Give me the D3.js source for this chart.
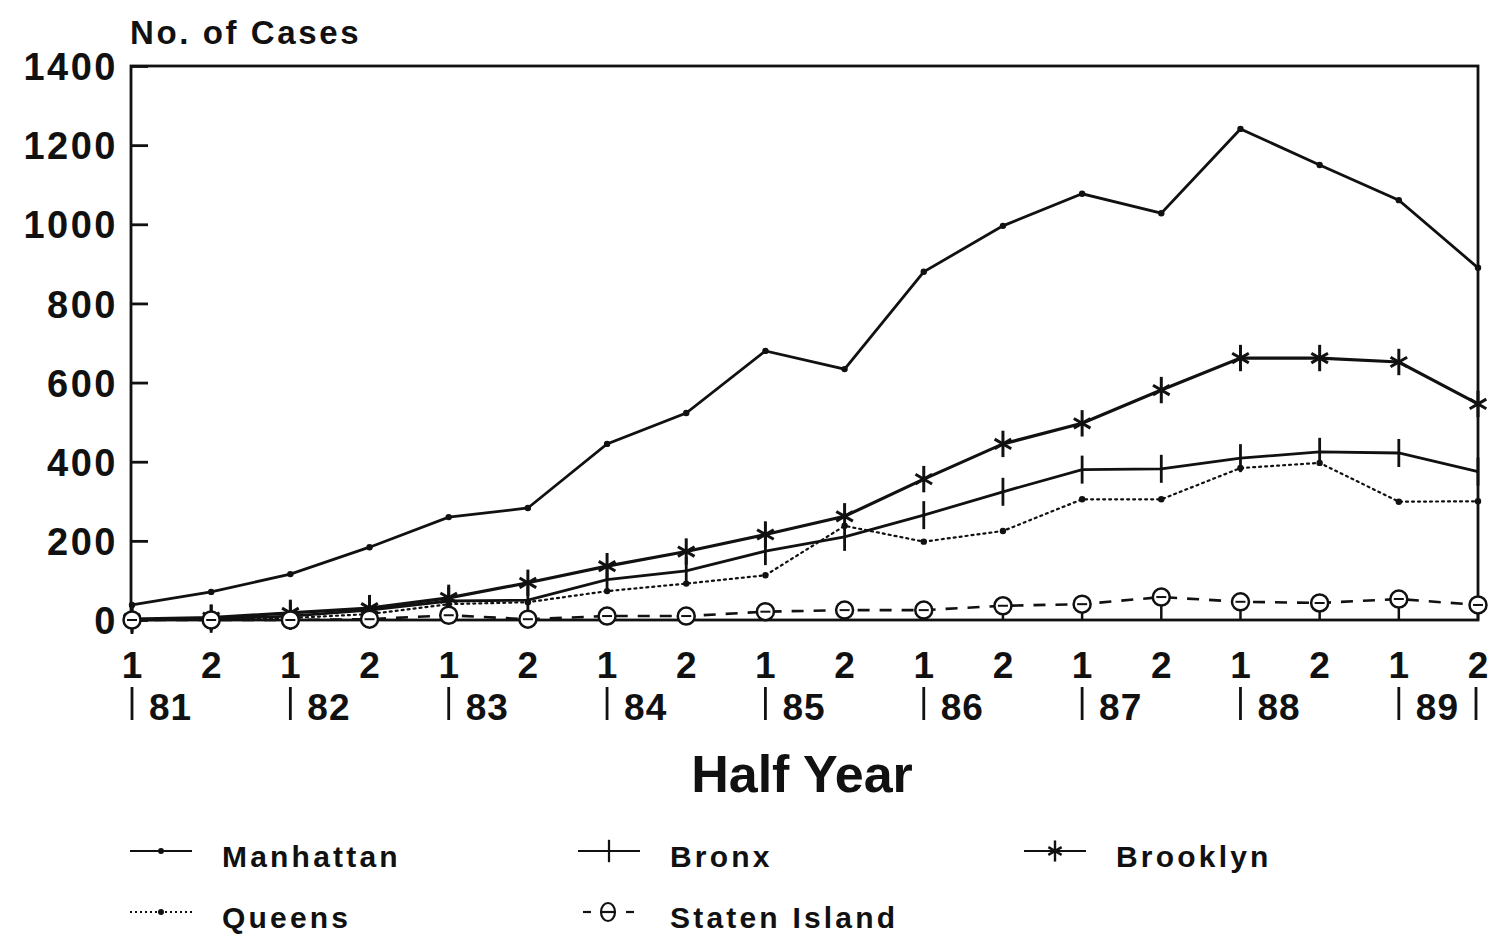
<!DOCTYPE html>
<html>
<head>
<meta charset="utf-8">
<script src="https://cdn.jsdelivr.net/npm/d3@7"></script>
<style>
  body { margin: 0; background: #fff; }
  text { font-family: "Liberation Sans", Arial, sans-serif; font-weight: bold; fill: #111; }
</style>
</head>
<body>
<svg width="1501" height="940"></svg>
<script>
// half-year periods, 1981 H1 .. 1989 H2
var halves = ["1","2","1","2","1","2","1","2","1","2","1","2","1","2","1","2","1","2"];
var years = ["81","82","83","84","85","86","87","88","89"];
var yTicks = [0, 200, 400, 600, 800, 1000, 1200, 1400];

var manhattan = [38, 71, 116, 184, 260, 283, 445, 523, 680, 634, 880, 996, 1077, 1028, 1241, 1150, 1061, 890];
var bronx     = [0, 3, 10, 25, 48, 50, 102, 124, 174, 210, 265, 324, 380, 382, 409, 425, 422, 375];
var brooklyn  = [2, 6, 18, 30, 56, 94, 136, 173, 216, 262, 356, 445, 497, 581, 662, 662, 652, 546];
var queens    = [0, 2, 5, 15, 40, 45, 73, 92, 113, 238, 198, 225, 305, 305, 384, 397, 299, 300];
var staten    = [0, 0, 0, 2, 12, 2, 10, 10, 21, 25, 25, 36, 40, 58, 46, 43, 53, 38];

var svg = d3.select("svg");
// plot box (avoid "top", it is window.top)
var pLeft = 131, pRight = 1478, pTop = 66, pBottom = 620;

var x = d3.scaleLinear().domain([0, 17]).range([pLeft + 1, pRight]);
var y = d3.scaleLinear().domain([0, 1400]).range([pBottom, pTop]);

// frame
svg.append("rect")
  .attr("x", pLeft).attr("y", pTop)
  .attr("width", pRight - pLeft).attr("height", pBottom - pTop)
  .attr("fill", "none").attr("stroke", "#111").attr("stroke-width", 2.8);

// y axis, ticks pointing inward
var yAxis = svg.append("g")
  .attr("transform", "translate(" + pLeft + ",0)")
  .call(d3.axisLeft(y).tickValues(yTicks).tickSize(-17).tickPadding(13).tickFormat(d3.format("d")));
yAxis.select(".domain").remove();
yAxis.selectAll("line").attr("stroke", "#111").attr("stroke-width", 2.8);
yAxis.selectAll("text")
  .style("font-size", "38px").style("letter-spacing", "2.5px")
  .attr("dy", "0.36em").attr("fill", "#111");

svg.append("text")
  .attr("x", 130).attr("y", 44)
  .style("font-size", "33px").style("letter-spacing", "2.6px")
  .text("No. of Cases");

// x labels
svg.append("g").selectAll("text")
  .data(halves).enter().append("text")
  .attr("x", function(d, i) { return x(i); })
  .attr("y", 678)
  .attr("text-anchor", "middle")
  .style("font-size", "37px")
  .text(function(d) { return d; });

var yr = svg.append("g").selectAll("g")
  .data(years).enter().append("g")
  .attr("transform", function(d, i) { return "translate(" + x(i * 2) + ",0)"; });
yr.append("line")
  .attr("x1", 0).attr("x2", 0).attr("y1", 687).attr("y2", 720)
  .attr("stroke", "#111").attr("stroke-width", 2.8);
yr.append("text")
  .attr("x", 17).attr("y", 720)
  .style("font-size", "37px").style("letter-spacing", "1px")
  .text(function(d) { return d; });
svg.append("line")
  .attr("x1", x(17) - 2).attr("x2", x(17) - 2).attr("y1", 687).attr("y2", 720)
  .attr("stroke", "#111").attr("stroke-width", 2.8);

svg.append("text")
  .attr("x", 802).attr("y", 792)
  .attr("text-anchor", "middle")
  .style("font-size", "52px")
  .text("Half Year");

// markers
function dotMark(g, r) {
  g.append("circle").attr("r", r).attr("fill", "#111");
}
function barMark(g) {
  g.append("line").attr("x1", 0).attr("x2", 0).attr("y1", -14).attr("y2", 14)
    .attr("stroke", "#111").attr("stroke-width", 2.8);
}
function starMark(g) {
  var s = 12;
  [90, 30, 150].forEach(function(a) {
    var r = a * Math.PI / 180;
    var k = a == 90 ? 1.1 : 0.8;
    g.append("line")
      .attr("x1", -Math.cos(r) * s * k).attr("y1", -Math.sin(r) * s * k)
      .attr("x2", Math.cos(r) * s * k).attr("y2", Math.sin(r) * s * k)
      .attr("stroke", "#111").attr("stroke-width", 3);
  });
}
function ringMark(g, stem) {
  g.append("line").attr("x1", 0).attr("x2", 0).attr("y1", 8).attr("y2", Math.max(stem, 8))
    .attr("stroke", "#111").attr("stroke-width", 2.5);
  g.append("circle").attr("r", 8.5)
    .attr("fill", "#fff").attr("stroke", "#111").attr("stroke-width", 2.5);
  g.append("line").attr("x1", -5).attr("x2", 5).attr("y1", 0).attr("y2", 0)
    .attr("stroke", "#111").attr("stroke-width", 2);
}

var series = [
  { name: "Manhattan", values: manhattan, width: 2.8, dash: null, mark: function(g) { dotMark(g, 3.2); } },
  { name: "Queens", values: queens, width: 2.2, dash: "2,4", mark: function(g) { dotMark(g, 3.2); } },
  { name: "Bronx", values: bronx, width: 2.8, dash: null, mark: barMark },
  { name: "Brooklyn", values: brooklyn, width: 3.2, dash: null, mark: starMark },
  { name: "Staten Island", values: staten, width: 2.6, dash: "12,10", mark: null }
];

var line = d3.line().x(function(d, i) { return x(i); }).y(function(d) { return y(d); });

series.forEach(function(s) {
  svg.append("path")
    .datum(s.values)
    .attr("d", line)
    .attr("fill", "none")
    .attr("stroke", "#111")
    .attr("stroke-width", s.width)
    .attr("stroke-dasharray", s.dash)
    .attr("stroke-linecap", s.dash == "2,4" ? "round" : "butt");
  var m = svg.append("g").selectAll("g")
    .data(s.values).enter().append("g")
    .attr("transform", function(d, i) { return "translate(" + x(i) + "," + y(d) + ")"; });
  if (s.mark) {
    m.each(function() { s.mark(d3.select(this)); });
  } else {
    m.each(function(d) { ringMark(d3.select(this), pBottom - y(d)); });
  }
});

// legend
var legend = [
  { name: "Manhattan", x: 130, y: 851, dash: null, mark: function(g) { dotMark(g, 3); } },
  { name: "Bronx", x: 578, y: 851, dash: null, mark: barMark },
  { name: "Brooklyn", x: 1024, y: 851, dash: null, mark: starMark },
  { name: "Queens", x: 130, y: 912, dash: "2,3", mark: function(g) { dotMark(g, 3); } },
  { name: "Staten Island", x: 578, y: 912, dash: null, mark: null }
];
legend.forEach(function(l) {
  var g = svg.append("g").attr("transform", "translate(" + l.x + "," + l.y + ")");
  if (l.mark) {
    g.append("line").attr("x1", 0).attr("x2", 62).attr("y1", 0).attr("y2", 0)
      .attr("stroke", "#111").attr("stroke-width", 2.2).attr("stroke-dasharray", l.dash);
    var c = g.append("g").attr("transform", "translate(31,0)");
    if (l.name == "Bronx" || l.name == "Brooklyn") {
      c.attr("transform", "translate(31,0) scale(0.8)");
    }
    l.mark(c);
  } else {
    g.append("line").attr("x1", 5).attr("x2", 13).attr("y1", 0).attr("y2", 0)
      .attr("stroke", "#111").attr("stroke-width", 2.2);
    g.append("line").attr("x1", 48).attr("x2", 56).attr("y1", 0).attr("y2", 0)
      .attr("stroke", "#111").attr("stroke-width", 2.2);
    g.append("ellipse").attr("cx", 30).attr("rx", 7).attr("ry", 9)
      .attr("fill", "none").attr("stroke", "#111").attr("stroke-width", 2.2);
    g.append("line").attr("x1", 23).attr("x2", 37).attr("y1", 0).attr("y2", 0)
      .attr("stroke", "#111").attr("stroke-width", 2.2);
  }
  g.append("text")
    .attr("x", 92).attr("y", 16)
    .style("font-size", "30px").style("letter-spacing", "3.2px")
    .text(l.name);
});
</script>
</body>
</html>
